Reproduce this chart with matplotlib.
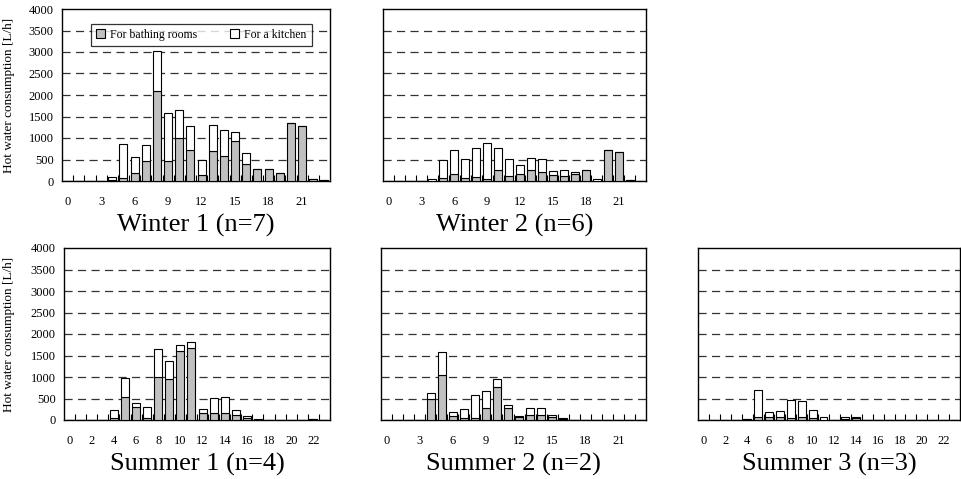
import numpy as np
import matplotlib
matplotlib.use("Agg")
import matplotlib.pyplot as plt
from matplotlib.ticker import FixedLocator, NullFormatter

plt.rcParams['font.family'] = ['Liberation Serif', 'DejaVu Serif']

hours = list(range(24))

# Winter 1 (n=7)
bath_w1 = [0, 0, 0, 0, 30, 60, 190, 460, 2100, 460, 990, 710, 130, 690, 570, 920, 390, 270, 270, 195, 1360, 1290, 40, 15]
kitchen_w1 = [0, 0, 0, 0, 70, 790, 360, 370, 930, 1110, 650, 560, 370, 620, 610, 210, 250, 0, 0, 0, 0, 0, 0, 0]

# Winter 2 (n=6)
bath_w2 = [0, 0, 0, 0, 10, 70, 170, 70, 90, 45, 255, 110, 160, 255, 210, 130, 110, 170, 255, 0, 720, 670, 20, 0]
kitchen_w2 = [0, 0, 0, 0, 35, 420, 550, 440, 680, 835, 515, 400, 210, 275, 300, 100, 145, 40, 0, 45, 0, 0, 0, 0]

# Summer 1 (n=4)
bath_s1 = [0, 0, 0, 0, 55, 530, 295, 50, 990, 945, 1600, 1670, 155, 155, 155, 110, 55, 10, 0, 0, 0, 0, 15, 0]
kitchen_s1 = [0, 0, 0, 0, 170, 440, 95, 250, 655, 420, 135, 135, 95, 350, 370, 115, 45, 15, 0, 0, 0, 0, 5, 0]

# Summer 2 (n=2)
bath_s2 = [0, 0, 0, 0, 495, 1040, 85, 55, 55, 285, 765, 270, 70, 115, 115, 80, 30, 0, 0, 0, 0, 0, 0, 0]
kitchen_s2 = [0, 0, 0, 0, 135, 535, 100, 210, 525, 395, 190, 80, 30, 165, 165, 35, 20, 0, 0, 0, 0, 0, 0, 0]

# Summer 3 (n=3)
bath_s3 = [0, 0, 0, 0, 15, 80, 80, 70, 40, 80, 55, 0, 0, 30, 40, 0, 0, 0, 0, 0, 0, 0, 0, 0]
kitchen_s3 = [0, 0, 0, 0, 10, 620, 105, 145, 435, 360, 180, 75, 0, 30, 30, 0, 0, 0, 0, 0, 0, 0, 0, 0]

y_ticks = [0, 500, 1000, 1500, 2000, 2500, 3000, 3500, 4000]
ticks_every3 = [0, 3, 6, 9, 12, 15, 18, 21]
ticks_every2 = [0, 2, 4, 6, 8, 10, 12, 14, 16, 18, 20, 22]

W, H = 961, 479
fig = plt.figure(figsize=(W / 100, H / 100), dpi=100)
fig.patch.set_facecolor('white')

GRAY = '#c0c0c0'


def panel(px_box, bath, kitchen, title, xticks, show_y, legend=False):
    left, right, top, bottom = px_box
    ax = fig.add_axes([left / W, 1 - bottom / H, (right - left) / W, (bottom - top) / H])
    x = np.array(hours)
    b = np.array(bath)
    k = np.array(kitchen)
    ax.bar(x, b, width=0.72, color=GRAY, edgecolor='black', linewidth=0.8,
           label='For bathing rooms', zorder=3)
    ax.bar(x, k, width=0.72, bottom=b, color='white', edgecolor='black', linewidth=0.8,
           label='For a kitchen', zorder=3)
    ax.set_xlim(-0.5, 23.5)
    ax.set_ylim(0, 4000)
    for yv in y_ticks[1:-1]:
        ax.axhline(yv, color='#333333', linewidth=0.9, dashes=(6.5, 4.3), zorder=1)
    ax.set_xticks(xticks)
    ax.set_xticklabels([str(t) for t in xticks])
    ax.xaxis.set_minor_locator(FixedLocator(np.arange(0.5, 23.5, 1.0)))
    ax.xaxis.set_minor_formatter(NullFormatter())
    ax.tick_params(axis='x', which='major', length=0, pad=10.5, labelsize=9)
    ax.tick_params(axis='x', which='minor', direction='in', length=4, width=0.8)
    ax.set_yticks(y_ticks)
    ax.tick_params(axis='y', length=0, pad=6, labelsize=9)
    if show_y:
        ax.set_ylabel('Hot water consumption [L/h]', fontsize=9.5)
        ax.yaxis.set_label_coords(-(left - 15) / (right - left), 0.5)
    else:
        ax.set_yticklabels([])
    for s in ax.spines.values():
        s.set_linewidth(1.0)
        s.set_color('black')
    ax.text(0.5, -44 / (bottom - top), title, transform=ax.transAxes,
            ha='center', va='center', fontsize=19)
    if legend:
        leg = ax.legend(loc='upper center', bbox_to_anchor=(0.52, 0.915), ncol=2,
                        fontsize=8.5, frameon=True, fancybox=False, edgecolor='black',
                        handlelength=0.75, handleheight=0.75, handletextpad=0.45,
                        columnspacing=2.8, borderpad=0.45, borderaxespad=0)
        leg.get_frame().set_linewidth(0.9)
        leg.set_zorder(5)
    return ax


panel((62, 330, 9, 181), bath_w1, kitchen_w1, 'Winter 1 (n=7)', ticks_every3, True, legend=True)
panel((383, 646, 9, 181), bath_w2, kitchen_w2, 'Winter 2 (n=6)', ticks_every3, False)
panel((64, 330, 248, 420), bath_s1, kitchen_s1, 'Summer 1 (n=4)', ticks_every2, True)
panel((381, 646, 248, 420), bath_s2, kitchen_s2, 'Summer 2 (n=2)', ticks_every3, False)
panel((698, 960, 248, 420), bath_s3, kitchen_s3, 'Summer 3 (n=3)', ticks_every2, False)

fig.savefig('out.png', dpi=100, facecolor='white')
